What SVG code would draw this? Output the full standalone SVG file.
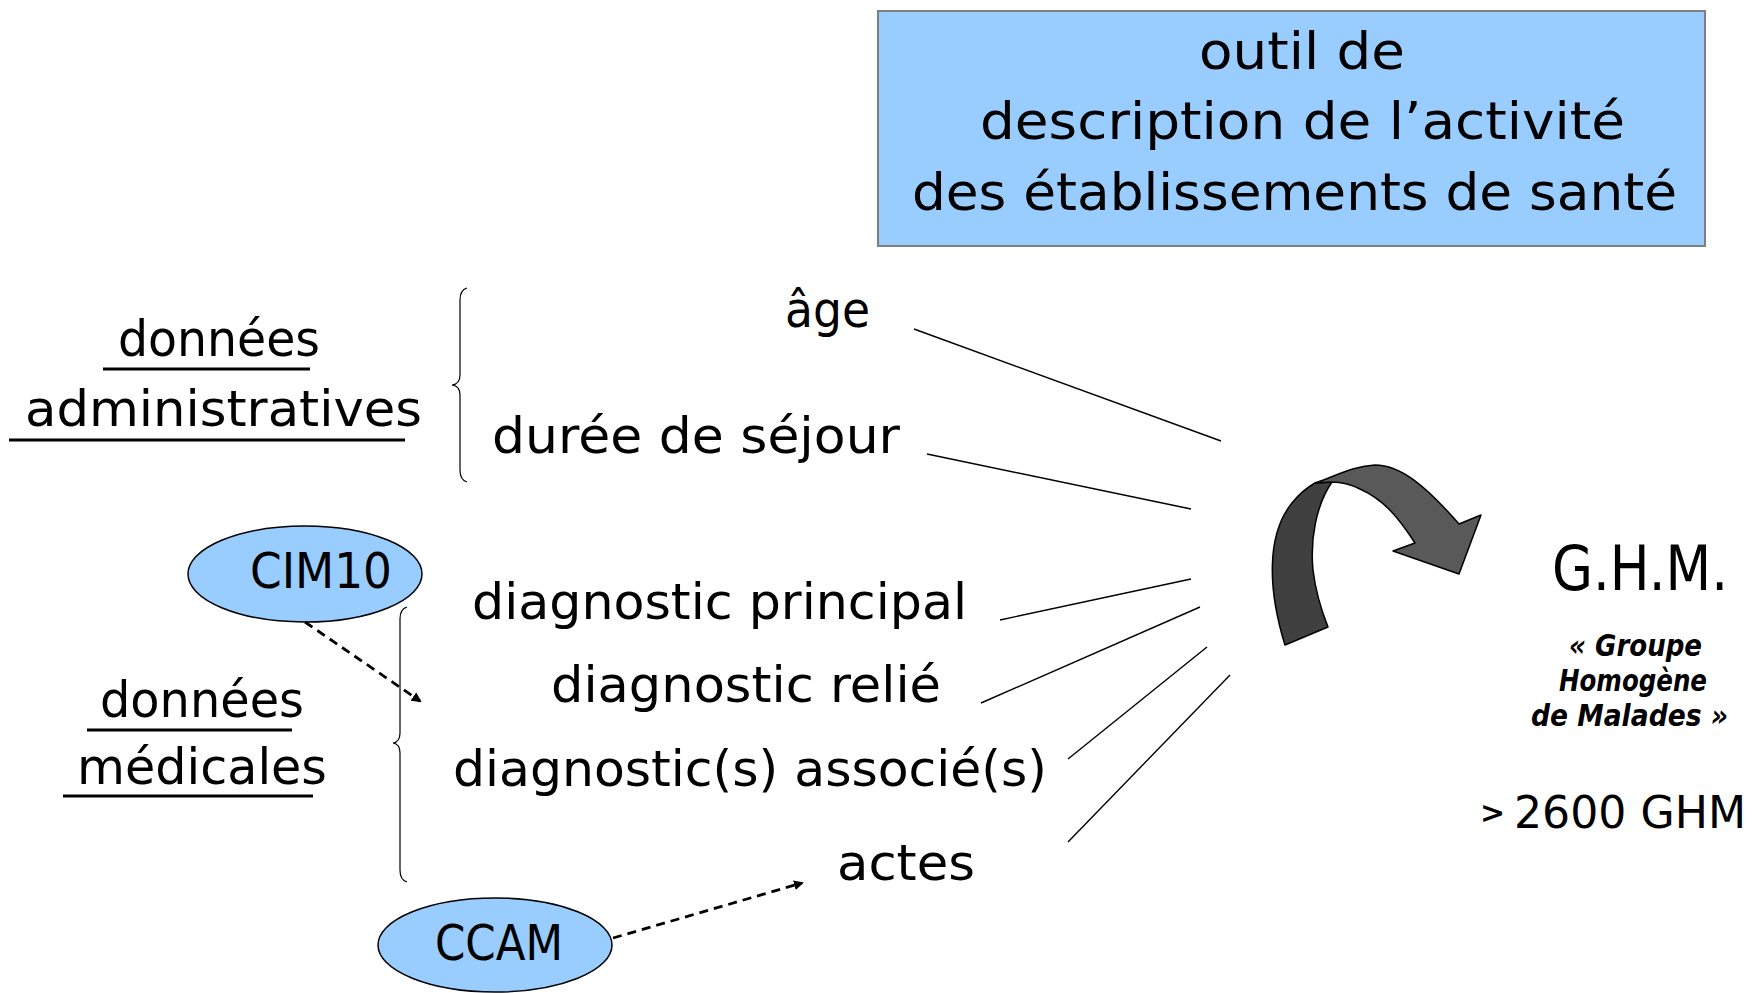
<svg xmlns="http://www.w3.org/2000/svg" width="1758" height="993" viewBox="0 0 1758 993">
<style>
text{font-family:"DejaVu Sans","Liberation Sans",sans-serif;fill:#000}
.t{font-size:50px}
.b{font-size:52px}
.sub{font-size:31px;font-weight:bold;font-style:italic}
.ul{stroke:#000;stroke-width:3}
.ln{stroke:#000;stroke-width:1.4;fill:none}
.br{stroke:#000;stroke-width:1.2;fill:none}
.ell{fill:#99CCFF;stroke:#000;stroke-width:1.5}
.dash{stroke:#000;stroke-width:2.8;stroke-dasharray:9 6;fill:none}
</style>
<defs>
<marker id="ah" markerWidth="10" markerHeight="10" refX="8" refY="5" orient="auto" markerUnits="userSpaceOnUse" viewBox="0 0 10 10">
<path d="M0,0 L10,5 L0,10 Z" fill="#000"/>
</marker>
</defs>
<rect width="1758" height="993" fill="#fff"/>

<g id="title">
<rect x="878" y="11" width="827" height="235" fill="#99CCFF" stroke="#7f7f7f" stroke-width="2"/>
<text class="b" x="1199" y="69" textLength="206" lengthAdjust="spacingAndGlyphs">outil de</text>
<text class="b" x="980" y="139" textLength="645" lengthAdjust="spacingAndGlyphs">description de l’activité</text>
<text class="b" x="912" y="210" textLength="765" lengthAdjust="spacingAndGlyphs">des établissements de santé</text>
</g>

<g id="admin">
<text class="t" x="118" y="356" textLength="202" lengthAdjust="spacingAndGlyphs">données</text>
<line class="ul" x1="103" y1="369" x2="310" y2="369"/>
<text class="t" x="25" y="426" textLength="397" lengthAdjust="spacingAndGlyphs">administratives</text>
<line class="ul" x1="9" y1="440" x2="405" y2="440"/>
<path class="br" d="M467,288 Q460,290 460,300 L460,375 Q460,384 452,385 Q460,386 460,395 L460,470 Q460,480 467,482"/>
</g>

<g id="age"><text class="t" x="785" y="327" textLength="85" lengthAdjust="spacingAndGlyphs">âge</text></g>
<g id="duree"><text class="t" x="492" y="453" textLength="408" lengthAdjust="spacingAndGlyphs">durée de séjour</text></g>

<g id="medical">
<text class="t" x="100" y="717" textLength="204" lengthAdjust="spacingAndGlyphs">données</text>
<line class="ul" x1="87" y1="730" x2="292" y2="730"/>
<text class="t" x="77" y="784" textLength="250" lengthAdjust="spacingAndGlyphs">médicales</text>
<line class="ul" x1="63" y1="796" x2="313" y2="796"/>
<path class="br" d="M407,607 Q400,609 400,619 L400,733 Q400,742 393,743 Q400,744 400,753 L400,870 Q400,880 407,882"/>
</g>

<g id="cim10">
<ellipse class="ell" cx="305" cy="574" rx="117" ry="48"/>
<text class="t" x="250" y="588" textLength="142" lengthAdjust="spacingAndGlyphs">CIM10</text>
</g>

<g id="dp"><text class="t" x="472" y="619" textLength="495" lengthAdjust="spacingAndGlyphs">diagnostic principal</text></g>
<g id="dr"><text class="t" x="551" y="702" textLength="390" lengthAdjust="spacingAndGlyphs">diagnostic relié</text></g>
<g id="da"><text class="t" x="453" y="786" textLength="594" lengthAdjust="spacingAndGlyphs">diagnostic(s) associé(s)</text></g>
<g id="actes"><text class="t" x="837" y="880" textLength="138" lengthAdjust="spacingAndGlyphs">actes</text></g>

<g id="ccam">
<ellipse class="ell" cx="495" cy="945" rx="117" ry="47"/>
<text class="t" x="435" y="960" textLength="128" lengthAdjust="spacingAndGlyphs">CCAM</text>
</g>

<g id="bigarrow" stroke="#000" stroke-width="1.5" stroke-linejoin="round">
<path fill="#404040" d="M1285,645 C1268,590 1266,535 1292,503 C1300,493 1308,487 1315,483 L1332,482 C1316,505 1310,540 1313,570 C1316,595 1322,612 1328,627 Z"/>
<path fill="#595959" d="M1315,483 C1340,474 1355,466 1375,465 C1400,465 1425,485 1459,524 L1481,515 L1459,574 L1393,551 L1415,543 C1400,520 1385,500 1360,489 C1350,484 1340,482 1332,482 Z"/>
</g>

<g id="ghm">
<text x="1552" y="590" font-size="62" textLength="176" lengthAdjust="spacingAndGlyphs">G.H.M.</text>
<text class="sub" x="1569" y="656" textLength="133" lengthAdjust="spacingAndGlyphs">« Groupe</text>
<text class="sub" x="1559" y="691" textLength="148" lengthAdjust="spacingAndGlyphs">Homogène</text>
<text class="sub" x="1531" y="726" textLength="197" lengthAdjust="spacingAndGlyphs">de Malades »</text>
<text x="1480" y="823" font-size="30" font-weight="bold">&gt;</text>
<text x="1514" y="828" font-size="45" textLength="232" lengthAdjust="spacingAndGlyphs">2600 GHM</text>
</g>

<g id="connectors">
<line class="ln" x1="914" y1="329" x2="1221" y2="441"/>
<line class="ln" x1="927" y1="454" x2="1191" y2="509"/>
<line class="ln" x1="1000" y1="620" x2="1191" y2="579"/>
<line class="ln" x1="981" y1="703" x2="1200" y2="607"/>
<line class="ln" x1="1068" y1="759" x2="1207" y2="647"/>
<line class="ln" x1="1068" y1="842" x2="1230" y2="675"/>
<line class="dash" x1="305" y1="622" x2="420" y2="701" marker-end="url(#ah)"/>
<line class="dash" x1="613" y1="938" x2="802" y2="883" marker-end="url(#ah)"/>
</g>
</svg>
